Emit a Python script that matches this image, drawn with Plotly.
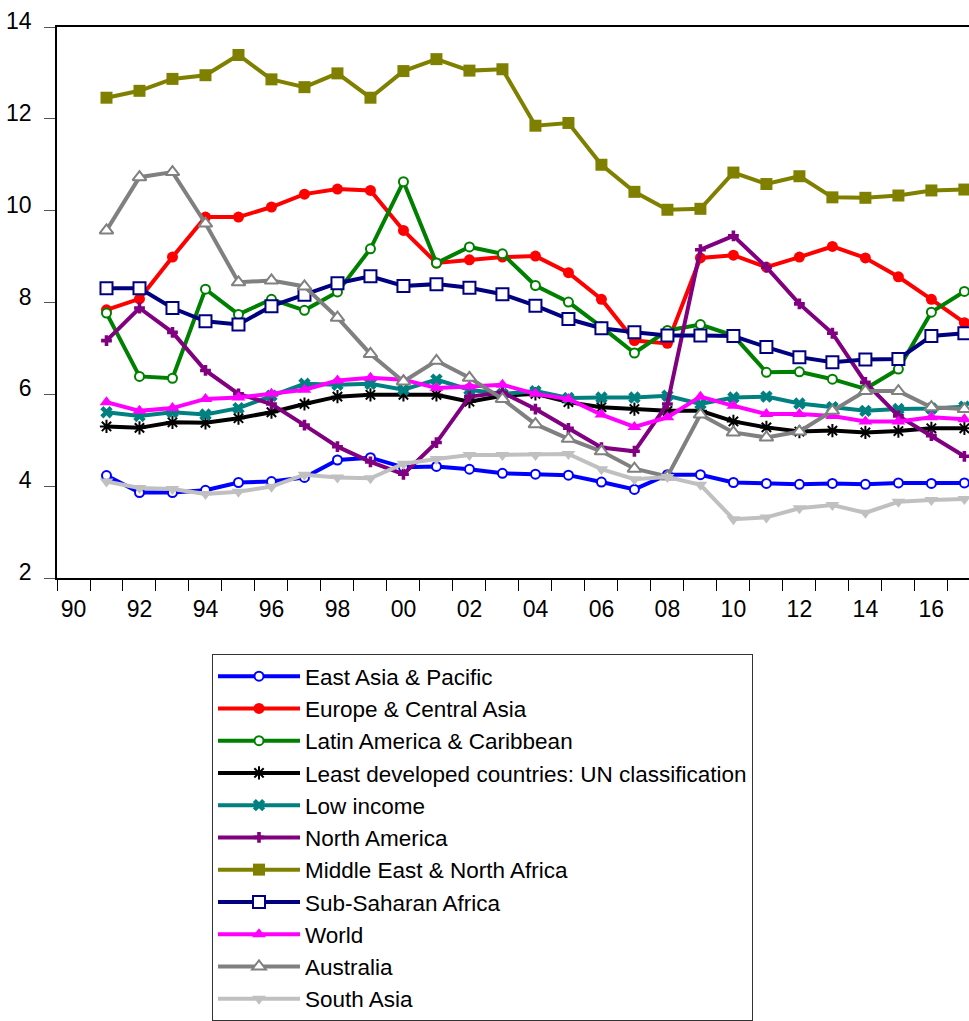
import plotly.graph_objects as go

years = list(range(1991, 2018))

east_asia_pacific = [4.23, 3.86, 3.86, 3.91, 4.08, 4.10, 4.19, 4.57, 4.62, 4.41, 4.43, 4.37, 4.28,
                     4.26, 4.24, 4.09, 3.93, 4.25, 4.25, 4.08, 4.06, 4.04, 4.06, 4.04, 4.07, 4.06, 4.07]
europe_central_asia = [7.84, 8.08, 8.99, 9.86, 9.86, 10.08, 10.36, 10.47, 10.44, 9.57, 8.86, 8.93, 8.99,
                       9.01, 8.65, 8.07, 7.17, 7.11, 8.97, 9.03, 8.77, 8.99, 9.22, 8.97, 8.56, 8.07, 7.56]
latin_america_caribbean = [7.77, 6.39, 6.35, 8.29, 7.74, 8.07, 7.83, 8.23, 9.17, 10.63, 8.86, 9.21, 9.06,
                           8.37, 8.01, 7.47, 6.90, 7.39, 7.52, 7.28, 6.48, 6.49, 6.33, 6.12, 6.55, 7.79, 8.24]
least_developed = [5.30, 5.27, 5.39, 5.38, 5.48, 5.61, 5.79, 5.95, 5.99, 5.99, 5.99, 5.84, 5.97,
                   6.01, 5.83, 5.72, 5.68, 5.64, 5.64, 5.41, 5.28, 5.19, 5.21, 5.17, 5.20, 5.26, 5.26]
low_income = [5.61, 5.53, 5.61, 5.56, 5.70, 5.97, 6.23, 6.21, 6.23, 6.10, 6.32, 6.10, 6.01,
              6.07, 5.92, 5.93, 5.93, 5.97, 5.79, 5.93, 5.95, 5.80, 5.72, 5.64, 5.68, 5.69, 5.73]
north_america = [7.17, 7.88, 7.35, 6.52, 6.01, 5.79, 5.33, 4.86, 4.53, 4.26, 4.95, 5.95, 6.04,
                 5.68, 5.26, 4.84, 4.76, 5.79, 9.15, 9.45, 8.77, 7.97, 7.33, 6.26, 5.53, 5.10, 4.65]
middle_east_north_africa = [12.46, 12.61, 12.87, 12.95, 13.39, 12.86, 12.69, 12.99, 12.46, 13.04, 13.30, 13.05, 13.08,
                            11.85, 11.91, 11.00, 10.41, 10.02, 10.04, 10.83, 10.58, 10.75, 10.29, 10.28, 10.33, 10.44, 10.46]
sub_saharan_africa = [8.31, 8.31, 7.88, 7.59, 7.52, 7.92, 8.17, 8.42, 8.57, 8.36, 8.40, 8.32, 8.18,
                      7.93, 7.64, 7.44, 7.35, 7.28, 7.28, 7.27, 7.03, 6.81, 6.70, 6.76, 6.77, 7.27, 7.33]
world = [5.83, 5.64, 5.70, 5.90, 5.93, 6.01, 6.10, 6.30, 6.36, 6.32, 6.14, 6.17, 6.21,
         6.01, 5.90, 5.56, 5.29, 5.50, 5.95, 5.75, 5.57, 5.57, 5.53, 5.41, 5.41, 5.50, 5.46]
australia = [9.57, 10.73, 10.84, 9.72, 8.44, 8.48, 8.35, 7.67, 6.88, 6.28, 6.73, 6.36, 5.90,
             5.35, 5.03, 4.76, 4.38, 4.21, 5.56, 5.17, 5.06, 5.19, 5.64, 6.07, 6.07, 5.72, 5.68]
south_asia = [4.10, 3.96, 3.94, 3.83, 3.88, 3.99, 4.25, 4.19, 4.17, 4.49, 4.59, 4.68, 4.68,
              4.68, 4.70, 4.37, 4.15, 4.20, 4.03, 3.28, 3.32, 3.52, 3.59, 3.42, 3.66, 3.70, 3.72]

tick_years = list(range(1990, 2017, 2))
tick_labels = [f"{y % 100:02d}" for y in tick_years]

series = [
    ("East Asia & Pacific", east_asia_pacific, "#0000FF", "circle", 9, "white"),
    ("Europe & Central Asia", europe_central_asia, "#FF0000", "circle", 11, None),
    ("Latin America & Caribbean", latin_america_caribbean, "#008000", "circle", 9, "white"),
    ("Least developed countries: UN classification", least_developed, "#000000", "asterisk-open", 11, None),
    ("Low income", low_income, "#008080", "x", 11, None),
    ("North America", north_america, "#800080", "cross", 9, None),
    ("Middle East & North Africa", middle_east_north_africa, "#808000", "square", 12, None),
    ("Sub-Saharan Africa", sub_saharan_africa, "#000080", "square", 12, "white"),
    ("World", world, "#FF00FF", "triangle-up", 12, None),
    ("Australia", australia, "#808080", "triangle-up", 12, "white"),
    ("South Asia", south_asia, "#C0C0C0", "triangle-down", 12, None),
]

fig = go.Figure()
for name, vals, color, symbol, size, fill in series:
    if fill is not None:
        marker = dict(symbol=symbol, size=size, color=fill, line=dict(color=color, width=2))
    elif symbol.endswith("-open"):
        marker = dict(symbol=symbol, size=size, color=color, line=dict(color=color, width=2))
    else:
        marker = dict(symbol=symbol, size=size, color=color, line=dict(color=color, width=0))
    fig.add_trace(go.Scatter(
        x=years, y=vals, name=name, mode="lines+markers",
        line=dict(color=color, width=4), marker=marker,
        legendgroup=name,
    ))

fig.update_layout(
    width=969, height=1021,
    margin=dict(l=57, r=0, t=27, b=443, autoexpand=False),
    plot_bgcolor="white", paper_bgcolor="white",
    font=dict(family="Liberation Sans, Arial, sans-serif", size=23, color="black"),
    showlegend=True,
    legend=dict(
        x=(212 - 57) / 912, y=(578 - 654) / 551, xanchor="left", yanchor="top",
        bgcolor="white", bordercolor="#333333", borderwidth=1,
        font=dict(size=22.5, color="black"),
        itemwidth=82, tracegroupgap=0,
    ),
    xaxis=dict(
        range=[1989.5, 2017.14],
        tickvals=tick_years, ticktext=tick_labels,
        ticks="", showgrid=False, zeroline=False,
        showline=True, linecolor="black", linewidth=1.5, mirror=True,
        minor=dict(ticks="outside", tick0=1989.5, dtick=1, ticklen=11,
                   tickcolor="black", tickwidth=1, showgrid=False),
        tickfont=dict(size=23),
        ticklabelstandoff=10,
    ),
    yaxis=dict(
        range=[2, 14], tickvals=list(range(2, 15, 2)),
        ticks="outside", ticklen=11, tickcolor="#555555", tickwidth=1,
        showgrid=False, zeroline=False,
        showline=True, linecolor="black", linewidth=1.5, mirror=False,
        tickfont=dict(size=23),
        ticklabelshift=-6, ticklabelstandoff=8,
    ),
)

fig.write_html("out.html")
